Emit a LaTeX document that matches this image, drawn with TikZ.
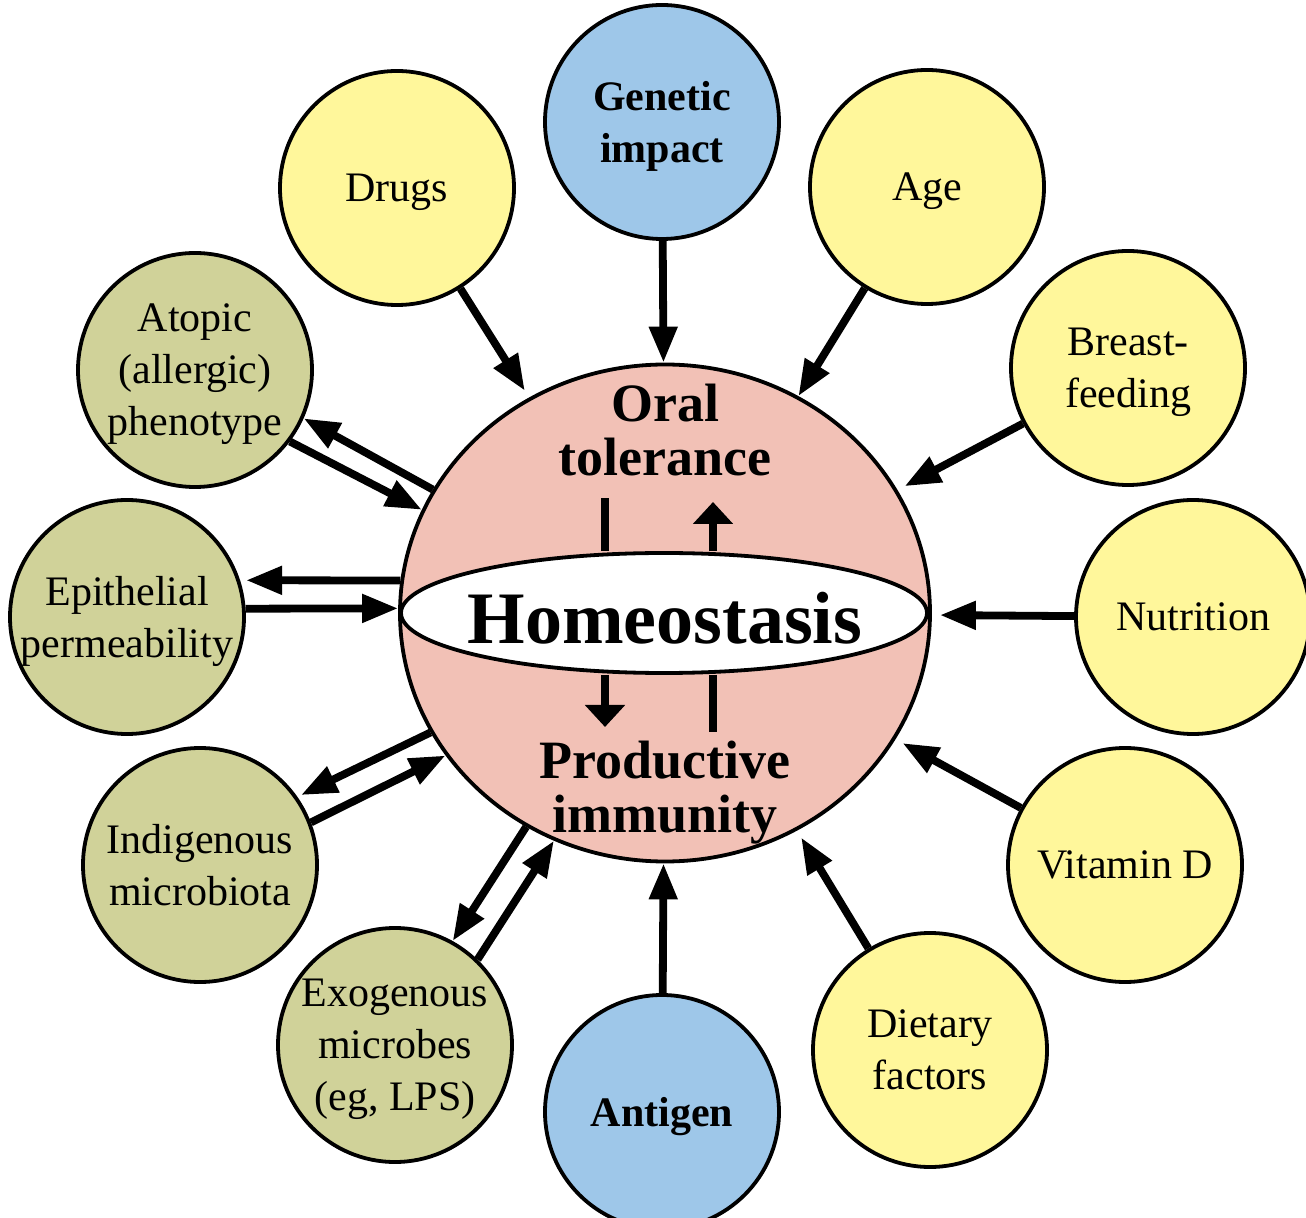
\documentclass[tikz,border=0pt]{standalone}
\usepackage{fontspec}
\setmainfont{Liberation Serif}
\usepackage{tikz}
\usetikzlibrary{arrows.meta,shapes.geometric}
\definecolor{fac_yellow}{RGB}{255,247,155}
\definecolor{key_blue}{RGB}{158,199,233}
\definecolor{bar_olive}{RGB}{208,210,153}
\definecolor{sph_pink}{RGB}{242,193,182}

\begin{document}
\begin{tikzpicture}[
                x=0.5pt, y=-0.5pt,
                every node/.style={inner sep=0pt},
                factor/.style={circle, draw=black, line width=1.9pt, fill=fac_yellow, minimum size=117pt, font=\fontsize{21}{26}\selectfont, align=center, text depth=0pt},
                key/.style={factor, fill=key_blue, font=\bfseries\fontsize{21}{26}\selectfont},
                barrier/.style={factor, fill=bar_olive},
                sphere/.style={ellipse, draw=black, line width=1.9pt, fill=sph_pink, minimum width=265pt, minimum height=248.5pt},
                band/.style={ellipse, draw=black, line width=1.9pt, fill=white, minimum width=263pt, minimum height=60pt},
                phase/.style={font=\bfseries\fontsize{27}{27}\selectfont, align=center},
                outarr/.style={-{Triangle[length=18pt,width=13.5pt]}, line width=3.9pt},
                inarr/.style={-{Triangle[length=11pt,width=19.5pt]}, line width=4pt},
                inbar/.style={line width=4pt}
            ]
                \useasboundingbox (0,0) rectangle (1306,1218);

                % Central sphere with equator band
                \node[sphere] (sph) at (665,613) {};
                \node[band] (homeo) at (664,613) {};
                \node[font=\bfseries\fontsize{37}{37}\selectfont, anchor=base] (homeotxt) at (665,644) {Homeostasis};
                \node[phase] (oral) at (665,430) {Oral\\tolerance};
                \node[phase] (prod) at (665,793) {Productive\\immunity};

                % Inner arrows
                \coordinate (tolL) at (605,498);
                \coordinate (tolR) at (713,502);
                \coordinate (proL) at (605,727);
                \coordinate (proR) at (713,732);
                \draw[inbar] (homeo.north -| tolL) -- (tolL);
                \draw[inarr] (homeo.north -| tolR) -- (tolR);
                \draw[inarr] (homeo.south -| proL) -- (proL);
                \draw[inbar] (homeo.south -| proR) -- (proR);

                % Outer factors
                \node[key] (gen) at (662,122) {Genetic\\impact};
                \node[factor] (drugs) at (397,188) {Drugs};
                \node[factor] (age) at (927,187) {Age};
                \node[factor] (breast) at (1128,368) {Breast-\\feeding};
                \node[factor] (nutr) at (1193,617) {Nutrition};
                \node[factor] (vitd) at (1125,865) {Vitamin D};
                \node[factor] (diet) at (930,1050) {Dietary\\factors};
                \node[key] (antigen) at (662,1112) {Antigen};
                \node[barrier] (exo) at (395,1045) {Exogenous\\microbes\\(eg, LPS)};
                \node[barrier] (indig) at (200,865) {Indigenous\\microbiota};
                \node[barrier] (epi) at (127,617) {Epithelial\\permeability};
                \node[barrier] (atopic) at (195,370) {Atopic\\(allergic)\\phenotype};

                % One-way influences
                \draw[outarr] (gen) -- (sph);
                \draw[outarr, shorten >=4pt] (drugs) -- (sph);
                \draw[outarr] (age) -- (sph);
                \draw[outarr, shorten >=4pt] (breast) -- (sph);
                \draw[outarr, shorten >=4pt] (nutr) -- (sph);
                \draw[outarr, shorten >=4pt] (vitd) -- (sph);
                \draw[outarr, shorten >=4pt] (diet) -- (sph);
                \draw[outarr] (antigen) -- (sph);

                % Two-way influences
                \draw[outarr] (sph.152) -- (atopic.336);
                \draw[outarr] (atopic.323) -- (sph.157);
                \draw[outarr, shorten >=3pt] (sph.173) -- (epi.18);
                \draw[outarr] (epi.4) -- (sph.179);
                \draw[outarr, shorten >=2pt] (sph.207) -- (indig.35);
                \draw[outarr] (indig.21) -- (sph.213);
                \draw[outarr] (sph.237) -- (exo.61);
                \draw[outarr] (exo.46) -- (sph.244);
            \end{tikzpicture}
\end{document}
